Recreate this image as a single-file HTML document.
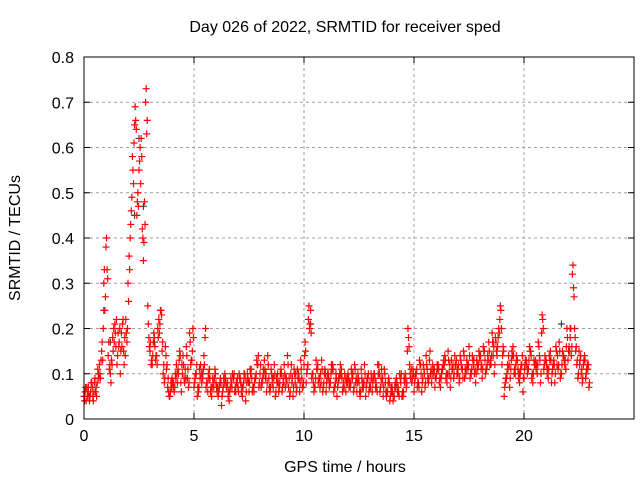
<!DOCTYPE html>
<html><head><meta charset="utf-8"><style>
body{margin:0;background:#fff}
svg{display:block;font-family:"Liberation Sans",sans-serif}
</style></head><body>
<svg id="chart" width="640" height="480" viewBox="0 0 640 480">
<rect width="640" height="480" fill="#fff"/>
<g id="grid"></g><g id="ticks"></g><g id="pts"></g>
<rect x="84" y="57" width="550" height="362" fill="none" stroke="#000" stroke-width="1"/>
<text x="345" y="32" font-size="16" text-anchor="middle">Day 026 of 2022, SRMTID for receiver sped</text>
<text x="345" y="472" font-size="16" text-anchor="middle">GPS time / hours</text>
<text transform="translate(20,238) rotate(-90)" font-size="16" text-anchor="middle">SRMTID / TECUs</text>
</svg>
<script>
const xTicks=[0,5,10,15,20,25];
const yTicks=[0,0.1,0.2,0.3,0.4,0.5,0.6,0.7,0.8];
const yTickLabels=["0","0.1","0.2","0.3","0.4","0.5","0.6","0.7","0.8"];
const xTickLabels=["0","5","10","15","20",""];
const seriesAStart=0.0, seriesBStart=0.05, seriesCStart=0.025, seriesDStart=0.075, stepHours=0.1;
const seriesA=[0.05,0.04,0.07,0.06,0.05,0.09,0.08,0.12,0.15,0.30,
0.38,0.14,0.10,0.18,0.21,0.12,0.17,0.19,0.15,0.22,
0.30,0.40,0.58,0.65,0.45,0.55,0.62,0.35,0.70,0.25,
0.15,0.12,0.18,0.14,0.22,0.24,0.10,0.16,0.07,0.05,
0.09,0.06,0.12,0.10,0.08,0.14,0.11,0.09,0.19,0.13,
0.07,0.10,0.06,0.12,0.09,0.18,0.08,0.11,0.05,0.07,
0.08,0.05,0.09,0.06,0.10,0.07,0.04,0.08,0.09,0.06,
0.07,0.09,0.05,0.10,0.08,0.06,0.11,0.07,0.09,0.12,
0.10,0.08,0.13,0.06,0.09,0.11,0.07,0.05,0.10,0.08,
0.06,0.12,0.09,0.07,0.10,0.05,0.08,0.11,0.06,0.09,
0.12,0.08,0.22,0.24,0.10,0.07,0.11,0.09,0.13,0.08,
0.06,0.10,0.08,0.12,0.07,0.05,0.09,0.11,0.08,0.06,
0.10,0.07,0.09,0.12,0.06,0.08,0.11,0.07,0.05,0.09,
0.08,0.06,0.10,0.07,0.12,0.09,0.05,0.08,0.06,0.04,
0.07,0.05,0.09,0.06,0.08,0.05,0.10,0.15,0.12,0.08,
0.06,0.10,0.08,0.12,0.09,0.07,0.11,0.13,0.08,0.10,
0.09,0.12,0.07,0.11,0.14,0.08,0.10,0.13,0.09,0.12,
0.10,0.14,0.11,0.09,0.13,0.16,0.10,0.12,0.08,0.11,
0.13,0.09,0.15,0.11,0.17,0.12,0.14,0.18,0.16,0.22,
0.12,0.05,0.09,0.14,0.11,0.16,0.10,0.13,0.08,0.12,
0.09,0.13,0.11,0.15,0.08,0.12,0.10,0.14,0.19,0.11,
0.13,0.09,0.15,0.11,0.08,0.12,0.17,0.10,0.14,0.11,
0.13,0.18,0.32,0.20,0.12,0.15,0.10,0.12,0.09,0.11];
const seriesB=[0.06,0.05,0.04,0.08,0.06,0.07,0.10,0.09,0.13,0.24,
0.33,0.11,0.13,0.20,0.16,0.19,0.10,0.21,0.18,0.17,
0.36,0.46,0.52,0.66,0.50,0.60,0.42,0.48,0.63,0.18,
0.12,0.17,0.13,0.20,0.21,0.15,0.08,0.11,0.06,0.08,
0.07,0.10,0.08,0.15,0.12,0.09,0.16,0.07,0.12,0.20,
0.09,0.05,0.11,0.08,0.14,0.07,0.10,0.06,0.09,0.11,
0.06,0.07,0.03,0.09,0.08,0.05,0.07,0.10,0.06,0.08,
0.10,0.06,0.08,0.04,0.09,0.11,0.06,0.08,0.13,0.07,
0.07,0.11,0.09,0.14,0.06,0.08,0.12,0.09,0.06,0.11,
0.09,0.07,0.14,0.05,0.08,0.11,0.06,0.10,0.13,0.07,
0.17,0.11,0.20,0.09,0.06,0.13,0.08,0.10,0.06,0.11,
0.09,0.07,0.12,0.06,0.10,0.08,0.12,0.06,0.10,0.09,
0.07,0.11,0.06,0.08,0.10,0.05,0.07,0.12,0.08,0.06,
0.10,0.09,0.07,0.12,0.06,0.08,0.11,0.05,0.09,0.07,
0.04,0.08,0.06,0.10,0.05,0.09,0.07,0.18,0.09,0.11,
0.09,0.07,0.13,0.06,0.11,0.14,0.08,0.10,0.12,0.07,
0.12,0.08,0.10,0.13,0.09,0.15,0.07,0.11,0.14,0.10,
0.08,0.12,0.15,0.10,0.11,0.09,0.14,0.10,0.13,0.15,
0.11,0.16,0.10,0.14,0.12,0.19,0.10,0.15,0.20,0.24,
0.16,0.08,0.12,0.07,0.15,0.10,0.14,0.09,0.11,0.06,
0.12,0.10,0.16,0.09,0.13,0.11,0.17,0.08,0.22,0.14,
0.10,0.14,0.08,0.13,0.16,0.11,0.09,0.15,0.12,0.20,
0.16,0.14,0.29,0.15,0.09,0.13,0.08,0.14,0.11,0.07];
const seriesC=[0.04,0.07,0.05,0.08,0.04,0.06,0.11,0.10,0.17,0.33,
0.40,0.17,0.08,0.15,0.19,0.14,0.20,0.16,0.12,0.19,
0.26,0.43,0.55,0.69,0.48,0.57,0.58,0.39,0.73,0.21,
0.17,0.14,0.16,0.12,0.19,0.23,0.12,0.14,0.09,0.06,
0.08,0.07,0.10,0.13,0.06,0.12,0.09,0.11,0.17,0.15,
0.08,0.12,0.07,0.10,0.11,0.20,0.06,0.09,0.07,0.09,
0.07,0.06,0.08,0.07,0.09,0.08,0.06,0.07,0.10,0.08,
0.06,0.08,0.07,0.09,0.10,0.08,0.09,0.06,0.10,0.14,
0.12,0.09,0.11,0.08,0.07,0.10,0.09,0.06,0.08,0.10,
0.07,0.10,0.08,0.09,0.12,0.07,0.10,0.09,0.08,0.07,
0.14,0.10,0.25,0.19,0.08,0.09,0.12,0.07,0.11,0.10,
0.08,0.09,0.10,0.11,0.08,0.07,0.10,0.09,0.07,0.08,
0.09,0.08,0.10,0.11,0.08,0.06,0.09,0.08,0.07,0.10,
0.07,0.08,0.09,0.06,0.10,0.11,0.07,0.06,0.08,0.05,
0.06,0.07,0.08,0.05,0.10,0.06,0.09,0.20,0.10,0.09,
0.08,0.11,0.07,0.10,0.12,0.08,0.09,0.15,0.10,0.11,
0.10,0.11,0.09,0.12,0.13,0.10,0.12,0.11,0.10,0.13,
0.12,0.13,0.09,0.11,0.12,0.14,0.11,0.13,0.10,0.12,
0.14,0.11,0.13,0.12,0.15,0.14,0.16,0.17,0.18,0.25,
0.14,0.07,0.10,0.12,0.13,0.14,0.12,0.11,0.10,0.14,
0.11,0.12,0.13,0.14,0.10,0.13,0.12,0.13,0.23,0.12,
0.12,0.11,0.13,0.12,0.10,0.14,0.15,0.12,0.13,0.16,
0.15,0.20,0.34,0.18,0.13,0.12,0.11,0.13,0.10,0.12];
const seriesD=[0.07,0.06,0.05,0.07,0.08,0.05,0.09,0.13,0.20,0.27,
0.31,0.12,0.12,0.17,0.22,0.16,0.15,0.22,0.14,0.20,
0.33,0.49,0.61,0.64,0.47,0.52,0.40,0.43,0.66,0.16,
0.13,0.19,0.14,0.18,0.24,0.17,0.09,0.12,0.05,0.07,
0.08,0.09,0.11,0.14,0.10,0.08,0.14,0.08,0.13,0.18,
0.10,0.07,0.09,0.10,0.12,0.08,0.09,0.07,0.08,0.10,
0.07,0.08,0.05,0.08,0.07,0.06,0.09,0.09,0.07,0.09,
0.09,0.07,0.10,0.06,0.08,0.10,0.07,0.09,0.12,0.08,
0.08,0.10,0.10,0.12,0.07,0.09,0.10,0.08,0.07,0.10,
0.08,0.09,0.12,0.06,0.09,0.10,0.07,0.09,0.11,0.08,
0.15,0.12,0.21,0.10,0.07,0.11,0.09,0.08,0.07,0.10,
0.10,0.08,0.11,0.07,0.09,0.09,0.10,0.07,0.09,0.08,
0.08,0.10,0.07,0.09,0.09,0.06,0.08,0.10,0.09,0.07,
0.09,0.10,0.08,0.10,0.07,0.09,0.10,0.06,0.08,0.06,
0.05,0.07,0.07,0.09,0.06,0.08,0.08,0.16,0.11,0.10,
0.10,0.08,0.12,0.08,0.10,0.12,0.09,0.11,0.11,0.09,
0.11,0.09,0.11,0.12,0.10,0.13,0.09,0.12,0.12,0.11,
0.09,0.11,0.14,0.11,0.12,0.10,0.13,0.11,0.12,0.14,
0.12,0.15,0.11,0.13,0.13,0.17,0.12,0.14,0.19,0.20,
0.15,0.09,0.11,0.09,0.14,0.11,0.13,0.10,0.12,0.09,
0.13,0.11,0.15,0.10,0.12,0.12,0.16,0.10,0.20,0.13,
0.11,0.13,0.10,0.12,0.15,0.12,0.10,0.14,0.13,0.18,
0.15,0.16,0.27,0.16,0.10,0.14,0.09,0.13,0.12,0.08];
const darkTimes=[0.9,1.2,2.3,2.5,2.7,3.2,10.3,18.6,21.7,22.1];
const darkValues=[0.24,0.17,0.45,0.62,0.47,0.17,0.21,0.17,0.21,0.20];

const X0=84,X1=634,Y0=419,Y1=57;
const xs=v=>X0+(v/25)*(X1-X0);
const ys=v=>Y0-(v/0.8)*(Y0-Y1);
const NS="http://www.w3.org/2000/svg";
function mk(tag,attrs,parent){const e=document.createElementNS(NS,tag);for(const k in attrs)e.setAttribute(k,attrs[k]);parent.appendChild(e);return e;}
const grid=document.getElementById('grid'),ticks=document.getElementById('ticks'),pts=document.getElementById('pts');
yTicks.forEach((t,i)=>{const y=ys(t);
 if(i>0&&i<yTicks.length-1){const g=mk('line',{x1:X0,x2:X1,y1:y,y2:y,stroke:'#a0a0a0','stroke-dasharray':'3,3'},grid);
 
 }
 mk('line',{x1:X0,x2:X0+6,y1:y,y2:y,stroke:'#000'},ticks);
 mk('line',{x1:X1,x2:X1-6,y1:y,y2:y,stroke:'#000'},ticks);
 const l=mk('text',{x:X0-10,y:y+6,'font-size':16,'text-anchor':'end'},ticks);l.textContent=yTickLabels[i];
 
 
});
xTicks.forEach((t,i)=>{const x=xs(t);
 if(i>0&&i<xTicks.length-1){const g=mk('line',{x1:x,x2:x,y1:Y0,y2:Y1,stroke:'#a0a0a0','stroke-dasharray':'3,3'},grid);
 
 }
 mk('line',{x1:x,x2:x,y1:Y0,y2:Y0-6,stroke:'#000'},ticks);
 mk('line',{x1:x,x2:x,y1:Y1,y2:Y1+6,stroke:'#000'},ticks);
 const l=mk('text',{x:x,y:Y0+22,'font-size':16,'text-anchor':'middle'},ticks);l.textContent=xTickLabels[i];
 
 
});
function plus(x,y,c,name){const p=mk('path',{d:`M${x-3.5},${y}H${x+3.5}M${x},${y-3.5}V${y+3.5}`,stroke:c,'stroke-width':1.2,fill:'none'},pts);
 
 }
darkTimes.forEach((t,i)=>plus(xs(t),ys(darkValues[i]),'#404040','dark-point'));
[[seriesA,seriesAStart],[seriesB,seriesBStart],[seriesC,seriesCStart],[seriesD,seriesDStart]].forEach(([s,st])=>{
 s.forEach((v,i)=>plus(xs(st+i*stepHours),ys(v),'#ff0000','srmtid-point'));
});
</script>
</body></html>
